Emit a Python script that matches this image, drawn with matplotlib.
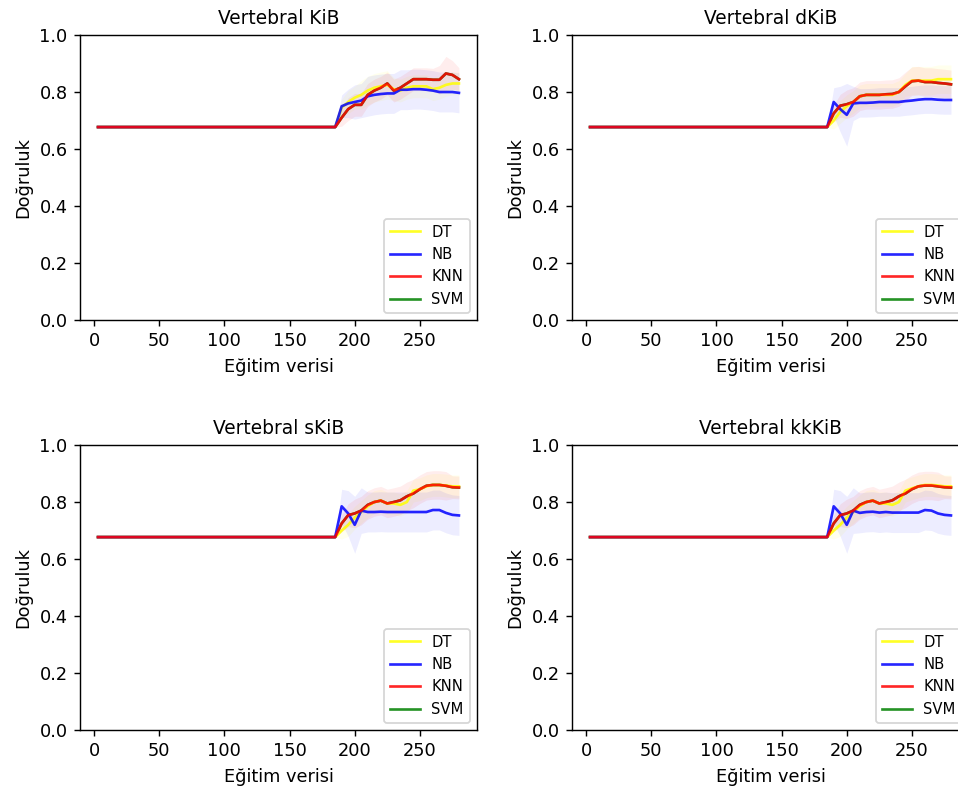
import numpy as np
import matplotlib
matplotlib.use('Agg')
import matplotlib.pyplot as plt

# training set sizes: flat part, then every 5 samples
x = np.array([3, 185] + list(range(190, 285, 5)))
flat = [0.677, 0.677]

titles = ['Vertebral KiB', 'Vertebral dKiB', 'Vertebral sKiB', 'Vertebral kkKiB']
names = ['DT', 'NB', 'KNN', 'SVM']
colors = ['yellow', 'blue', 'red', 'green']

# mean accuracy for x = 190 .. 280
kib_dt = [0.745, 0.765, 0.78, 0.79, 0.805, 0.815, 0.82, 0.825, 0.81, 0.805, 0.815, 0.82, 0.82, 0.82, 0.81, 0.815, 0.825, 0.83, 0.83]
kib_nb = [0.75, 0.76, 0.765, 0.77, 0.785, 0.79, 0.793, 0.795, 0.795, 0.808, 0.808, 0.81, 0.81, 0.808, 0.805, 0.80, 0.80, 0.80, 0.797]
kib_knn = [0.71, 0.74, 0.755, 0.755, 0.79, 0.805, 0.815, 0.83, 0.805, 0.815, 0.83, 0.845, 0.845, 0.845, 0.843, 0.843, 0.865, 0.86, 0.845]

dkib_dt = [0.70, 0.73, 0.75, 0.765, 0.785, 0.79, 0.79, 0.79, 0.79, 0.79, 0.80, 0.825, 0.84, 0.84, 0.84, 0.84, 0.845, 0.845, 0.845]
dkib_nb = [0.765, 0.74, 0.72, 0.76, 0.762, 0.762, 0.763, 0.765, 0.765, 0.765, 0.765, 0.768, 0.77, 0.773, 0.775, 0.775, 0.773, 0.772, 0.772]
dkib_knn = [0.725, 0.752, 0.757, 0.765, 0.785, 0.79, 0.79, 0.79, 0.792, 0.793, 0.80, 0.82, 0.838, 0.84, 0.835, 0.835, 0.832, 0.83, 0.827]

skib_dt = [0.70, 0.72, 0.745, 0.765, 0.785, 0.80, 0.805, 0.795, 0.795, 0.79, 0.80, 0.84, 0.845, 0.855, 0.86, 0.86, 0.858, 0.855, 0.855]
skib_nb = [0.785, 0.76, 0.72, 0.77, 0.765, 0.765, 0.766, 0.765, 0.765, 0.765, 0.765, 0.765, 0.765, 0.765, 0.772, 0.772, 0.762, 0.755, 0.753]
skib_knn = [0.725, 0.754, 0.76, 0.77, 0.79, 0.80, 0.805, 0.795, 0.80, 0.806, 0.82, 0.83, 0.845, 0.857, 0.86, 0.86, 0.857, 0.852, 0.851]

kkkib_dt = [0.70, 0.72, 0.745, 0.765, 0.785, 0.80, 0.805, 0.795, 0.795, 0.79, 0.80, 0.84, 0.848, 0.855, 0.86, 0.86, 0.858, 0.855, 0.855]
kkkib_nb = [0.785, 0.76, 0.72, 0.77, 0.762, 0.765, 0.766, 0.763, 0.765, 0.763, 0.763, 0.763, 0.763, 0.763, 0.772, 0.77, 0.76, 0.755, 0.753]
kkkib_knn = [0.725, 0.754, 0.76, 0.77, 0.79, 0.80, 0.805, 0.795, 0.80, 0.806, 0.82, 0.83, 0.845, 0.855, 0.858, 0.858, 0.855, 0.852, 0.851]

# standard deviation for x = 190 .. 280
kib_dt_sd = [0.03, 0.04, 0.04, 0.05, 0.05, 0.05, 0.05, 0.05, 0.04, 0.04, 0.04, 0.04, 0.04, 0.04, 0.04, 0.04, 0.04, 0.04, 0.04]
kib_nb_sd = [0.04, 0.05, 0.06, 0.06, 0.07, 0.07, 0.07, 0.07, 0.07, 0.07, 0.07, 0.07, 0.07, 0.07, 0.07, 0.07, 0.07, 0.07, 0.07]
kib_knn_sd = [0.03, 0.04, 0.04, 0.04, 0.04, 0.04, 0.04, 0.04, 0.04, 0.04, 0.04, 0.04, 0.04, 0.04, 0.04, 0.05, 0.06, 0.05, 0.04]

dkib_dt_sd = [0.03, 0.04, 0.04, 0.04, 0.04, 0.04, 0.04, 0.04, 0.04, 0.04, 0.04, 0.04, 0.05, 0.05, 0.05, 0.05, 0.05, 0.05, 0.05]
dkib_nb_sd = [0.05, 0.08, 0.11, 0.06, 0.05, 0.05, 0.05, 0.05, 0.05, 0.05, 0.05, 0.05, 0.05, 0.05, 0.05, 0.05, 0.05, 0.05, 0.05]
dkib_knn_sd = [0.03, 0.04, 0.05, 0.05, 0.05, 0.05, 0.05, 0.05, 0.05, 0.05, 0.05, 0.05, 0.05, 0.05, 0.05, 0.05, 0.05, 0.05, 0.05]

skib_dt_sd = [0.03, 0.04, 0.04, 0.04, 0.04, 0.04, 0.04, 0.04, 0.04, 0.04, 0.04, 0.04, 0.04, 0.04, 0.04, 0.04, 0.04, 0.04, 0.04]
skib_nb_sd = [0.06, 0.08, 0.10, 0.08, 0.07, 0.07, 0.07, 0.07, 0.07, 0.07, 0.07, 0.07, 0.07, 0.07, 0.07, 0.07, 0.07, 0.07, 0.07]
skib_knn_sd = [0.03, 0.04, 0.05, 0.05, 0.05, 0.05, 0.05, 0.05, 0.05, 0.05, 0.05, 0.05, 0.05, 0.05, 0.05, 0.05, 0.05, 0.04, 0.04]

panels = [
    (kib_dt, kib_nb, kib_knn, kib_dt_sd, kib_nb_sd, kib_knn_sd),
    (dkib_dt, dkib_nb, dkib_knn, dkib_dt_sd, dkib_nb_sd, dkib_knn_sd),
    (skib_dt, skib_nb, skib_knn, skib_dt_sd, skib_nb_sd, skib_knn_sd),
    (kkkib_dt, kkkib_nb, kkkib_knn, skib_dt_sd, skib_nb_sd, skib_knn_sd),
]

fig = plt.figure(figsize=(958 / 128, 787 / 128), dpi=128)
boxes = [
    [0.0835, 0.5934, 0.4144, 0.3621],
    [0.5971, 0.5934, 0.4144, 0.3621],
    [0.0835, 0.0724, 0.4144, 0.3621],
    [0.5971, 0.0724, 0.4144, 0.3621],
]

for box, title, p in zip(boxes, titles, panels):
    ax = fig.add_axes(box)
    dt, nb, knn, dt_sd, nb_sd, knn_sd = p
    means = [np.array(flat + dt), np.array(flat + nb), np.array(flat + knn)]
    sds = [np.array([0.0, 0.0] + dt_sd), np.array([0.0, 0.0] + nb_sd), np.array([0.0, 0.0] + knn_sd)]
    # SVM sits underneath the others
    means.append(means[2])
    sds.append(np.zeros(len(x)))
    zorders = [3, 4, 5, 2]
    for m, s, c, n, z in zip(means, sds, colors, names, zorders):
        ax.plot(x, m, color=c, label=n, linewidth=1.5, alpha=0.85, zorder=z)
        if s.any():
            ax.fill_between(x, m - s, m + s, color=c, alpha=0.07, linewidth=0, zorder=1)
    ax.set_ylim(0, 1.0)
    ax.set_title(title, fontsize=10.5)
    ax.set_xlabel('Eğitim verisi')
    ax.set_ylabel('Doğruluk')
    ax.legend(loc='lower right', prop={'family': ['Liberation Sans Narrow', 'DejaVu Sans'], 'size': 8.3})

fig.savefig('out.png', dpi=128)
